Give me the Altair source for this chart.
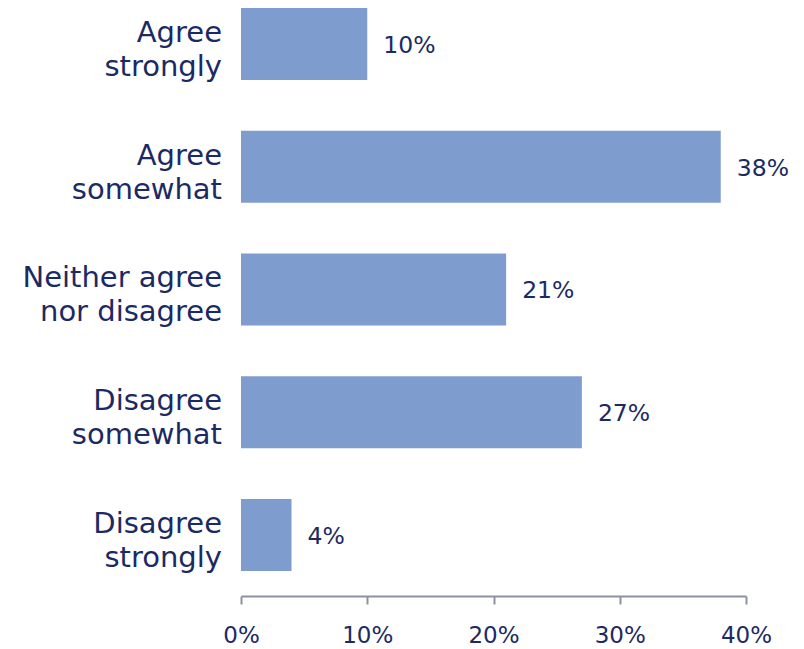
import altair as alt
import pandas as pd

categories = ["Agree|strongly", "Agree|somewhat", "Neither agree|nor disagree", "Disagree|somewhat", "Disagree|strongly"]
values = [10, 38, 21, 27, 4]
tick_values = [0, 10, 20, 30, 40]

df = pd.DataFrame({"cat": categories, "val": values})
df["label"] = df["val"].astype(str) + "%"

navy = "#1C2A63"
bar_color = "#7F9CCE"
axis_gray = "#8E91A3"
font = "DejaVu Sans"

y_enc = alt.Y("cat:N", sort=categories, axis=None,
              scale=alt.Scale(paddingInner=0.413, paddingOuter=0.134, align=0.24))

bars = alt.Chart(df).mark_bar(color=bar_color).encode(
    x=alt.X("val:Q", scale=alt.Scale(domain=[0, 40], nice=False),
            axis=alt.Axis(values=tick_values, labelExpr="datum.value + '%'", title=None,
                          grid=False, domainColor=axis_gray, tickColor=axis_gray,
                          domainWidth=2, tickWidth=2, tickSize=8,
                          labelFont=font, labelFontSize=23, labelColor=navy,
                          labelPadding=20, labelFlush=False)),
    y=y_enc,
)

vals = alt.Chart(df).mark_text(align="left", baseline="middle", dx=16, dy=2, font=font,
                               fontSize=23.5, color=navy).encode(
    x="val:Q", y=y_enc, text="label:N")

cats = alt.Chart(df).mark_text(align="right", baseline="middle", lineBreak="|", dy=-11,
                               lineHeight=34, font=font, fontSize=29, color=navy).encode(
    x=alt.value(-19), y=y_enc, text="cat:N")

chart = (bars + vals + cats).properties(
    width=505, height=596,
    background="white",
    autosize=alt.AutoSizeParams(type="none"),
    padding={"left": 241, "top": 0, "right": 58, "bottom": 53},
).configure_view(stroke=None)

chart.save("out.html", embed_options={"renderer": "svg", "actions": False})
